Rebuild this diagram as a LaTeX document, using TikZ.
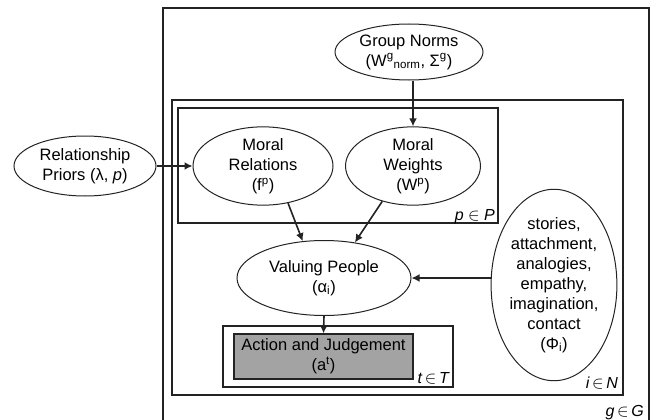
\documentclass[tikz,border=0pt]{standalone}
\usepackage{fontspec}
\setmainfont{Liberation Sans}
\usetikzlibrary{shapes.geometric,arrows.meta}
\definecolor{actgray}{RGB}{163,163,163}
\definecolor{linegray}{RGB}{35,35,35}
\tikzset{
  var/.style={ellipse,draw=linegray,line width=1pt,inner sep=0pt,align=center},
  plate/.style={draw=linegray,line width=1.2pt},
  platelabel/.style={anchor=base east,inner sep=0pt,font=\fontsize{16}{19}\selectfont\itshape},
}
\begin{document}
\begin{tikzpicture}[x=1pt,y=-1pt,font=\fontsize{16.5}{20}\selectfont]
      \useasboundingbox (0,0) rectangle (653,420);
      % plates
      \draw[plate] (163,421) -- (163,8) -- (649,8) -- (649,421);
      \draw[plate] (172,100) rectangle (623,395);
      \draw[plate] (178,108) rectangle (498,223);
      \draw[plate] (223,326) rectangle (453,387);
      \draw
        (409,52) node[var,minimum width=148,minimum height=56] (gn){Group Norms\\(W\textsuperscript{g}\textsubscript{norm}, Σ\textsuperscript{g})}
        (85,166) node[var,minimum width=142,minimum height=60] (rp){Relationship\\Priors (λ, \textit{p})}
        (263,166) node[var,minimum width=140,minimum height=75] (mr){Moral\\Relations\\(f\textsuperscript{p})}
        (413,166) node[var,minimum width=135,minimum height=75] (mw){Moral\\Weights\\(W\textsuperscript{p})}
        (324,278) node[var,minimum width=174,minimum height=75] (vp){Valuing People\\(α\textsubscript{i})}
        (554,285) node[var,minimum width=122,minimum height=152] (phi){stories,\\attachment,\\analogies,\\empathy,\\imagination,\\contact\\(Φ\textsubscript{i})}
        (323.5,356.5) node[draw=linegray,line width=1.3pt,fill=actgray,minimum width=179,minimum height=45,inner sep=0pt,align=center] (act){Action and Judgement\\(a\textsuperscript{t})};
      \node[platelabel] (pP) at (495,220) {p $\in$ P};
      \node[platelabel] (tT) at (449,383) {t\,$\in$\,T};
      \node[platelabel] (iN) at (618,388) {i\,$\in$\,N};
      \node[platelabel] (gG) at (644,416) {g\,$\in$\,G};
      \begin{scope}[-{Latex[length=8pt,width=8pt]},line width=1.6pt,draw=linegray]
        \draw (mw.north |- gn.south) to (mw.north);
        \draw (rp.east) to (mr.west);
        \draw (mr.-56) to (vp.120);
        \draw (mw.-131) to (vp.49);
        \draw (phi.west |- vp.east) to (vp.east);
        \draw (vp.south) to (act.north);
      \end{scope}
    \end{tikzpicture}
\end{document}
